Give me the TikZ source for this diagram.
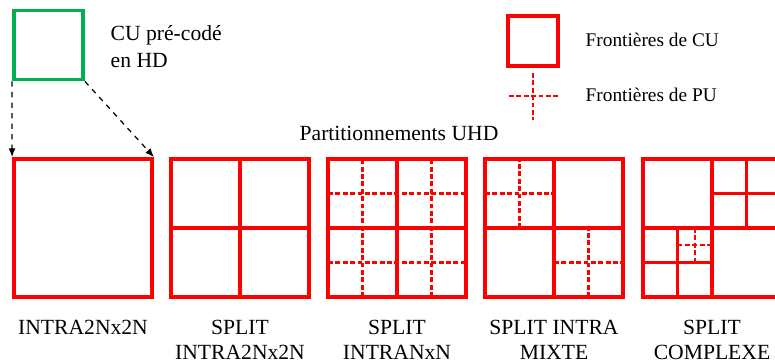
\documentclass[tikz,border=0pt]{standalone}
\usepackage{fontspec}
\setmainfont{Liberation Serif}
\usetikzlibrary{arrows.meta,positioning}
\definecolor{cured}{RGB}{255,0,0}
\definecolor{hdgreen}{RGB}{0,176,80}

\begin{document}
\begin{tikzpicture}[
  cu/.style={draw=cured, line width=2.2pt},
  pu/.style={draw=cured, line width=1.4pt, dash pattern=on 2.8pt off 1.4pt},
  cubox/.style={cu, minimum size=2.76cm, inner sep=0pt},
  lbl/.style={align=center, font=\fontsize{12.3}{14.2}\selectfont},
  leg/.style={anchor=west, font=\fontsize{11}{13}\selectfont},
  proj/.style={dashed, line width=0.7pt, -{Latex[length=5pt,width=4pt]}}
]
  \clip (0,0) rectangle (15.5,7.26);

  % CU HD
  \node[draw=hdgreen, line width=2.2pt, minimum size=1.38cm, inner sep=0pt] (hd) at (0.97,6.36) {};
  \node[lbl, align=left, anchor=west, font=\fontsize{12.3}{15.3}\selectfont] (hdtxt) at (2.09,6.32) {CU pré-codé\\en HD};

  % legende
  \node[cubox, minimum size=1cm] (legcu) at (10.66,6.44) {};
  \coordinate (pul) at (10.18,5.34);
  \coordinate (pur) at (11.16,5.34);
  \coordinate (put) at (10.66,5.8);
  \coordinate (pub) at (10.66,4.86);
  \draw[pu] (pul) -- (pur);
  \draw[pu] (put) -- (pub);
  \node[leg] (legcutxt) at (11.59,6.46) {Frontières de CU};
  \node[leg] (legputxt) at (11.59,5.36) {Frontières de PU};

  \node[lbl] (titre) at (7.98,4.6) {Partitionnements UHD};

  % INTRA2Nx2N
  \node[cubox] (intra) at (1.66,2.70) {};
  \draw[proj] (hd.south west) -- (intra.north west);
  \draw[proj] (hd.south east) -- (intra.north east);

  % SPLIT INTRA2Nx2N
  \node[cubox] (split) at (4.80,2.70) {};
  \draw[cu] (split.north) -- (split.south);
  \draw[cu] (split.west) -- (split.east);

  % SPLIT INTRANxN
  \begin{scope}[shift={(6.56,1.32)}]
    \draw[pu] (0.69,0) -- (0.69,2.76);
    \draw[pu] (2.07,0) -- (2.07,2.76);
    \draw[pu] (0,0.69) -- (2.76,0.69);
    \draw[pu] (0,2.07) -- (2.76,2.07);
  \end{scope}
  \node[cubox] (nxn) at (7.94,2.70) {};
  \draw[cu] (nxn.north) -- (nxn.south);
  \draw[cu] (nxn.west) -- (nxn.east);

  % SPLIT INTRA MIXTE
  \begin{scope}[shift={(9.70,1.32)}]
    \draw[pu] (0.69,1.38) -- (0.69,2.76);
    \draw[pu] (0,2.07) -- (1.38,2.07);
    \draw[pu] (2.07,0) -- (2.07,1.38);
    \draw[pu] (1.38,0.69) -- (2.76,0.69);
  \end{scope}
  \node[cubox] (mixte) at (11.08,2.70) {};
  \draw[cu] (mixte.north) -- (mixte.south);
  \draw[cu] (mixte.west) -- (mixte.east);

  % SPLIT COMPLEXE
  \begin{scope}[shift={(12.86,1.32)}]
    \draw[pu] (1.035,0.69) -- (1.035,1.38);
    \draw[pu] (0.69,1.035) -- (1.38,1.035);
    \draw[cu] (2.07,1.38) -- (2.07,2.76);
    \draw[cu] (1.38,2.07) -- (2.76,2.07);
    \draw[cu] (0.69,0) -- (0.69,1.38);
    \draw[cu] (0,0.69) -- (1.38,0.69);
  \end{scope}
  \node[cubox] (complexe) at (14.24,2.70) {};
  \draw[cu] (complexe.north) -- (complexe.south);
  \draw[cu] (complexe.west) -- (complexe.east);

  % libelles
  \node[lbl] (lintra) at (1.66,0.72) {INTRA2Nx2N};
  \node[lbl] (lsplit) at (4.80,0.47) {SPLIT\\INTRA2Nx2N};
  \node[lbl] (lnxn) at (7.94,0.47) {SPLIT\\INTRANxN};
  \node[lbl] (lmixte) at (11.08,0.47) {SPLIT INTRA\\MIXTE};
  \node[lbl] (lcomplexe) at (14.24,0.47) {SPLIT\\COMPLEXE};
\end{tikzpicture}
\end{document}
